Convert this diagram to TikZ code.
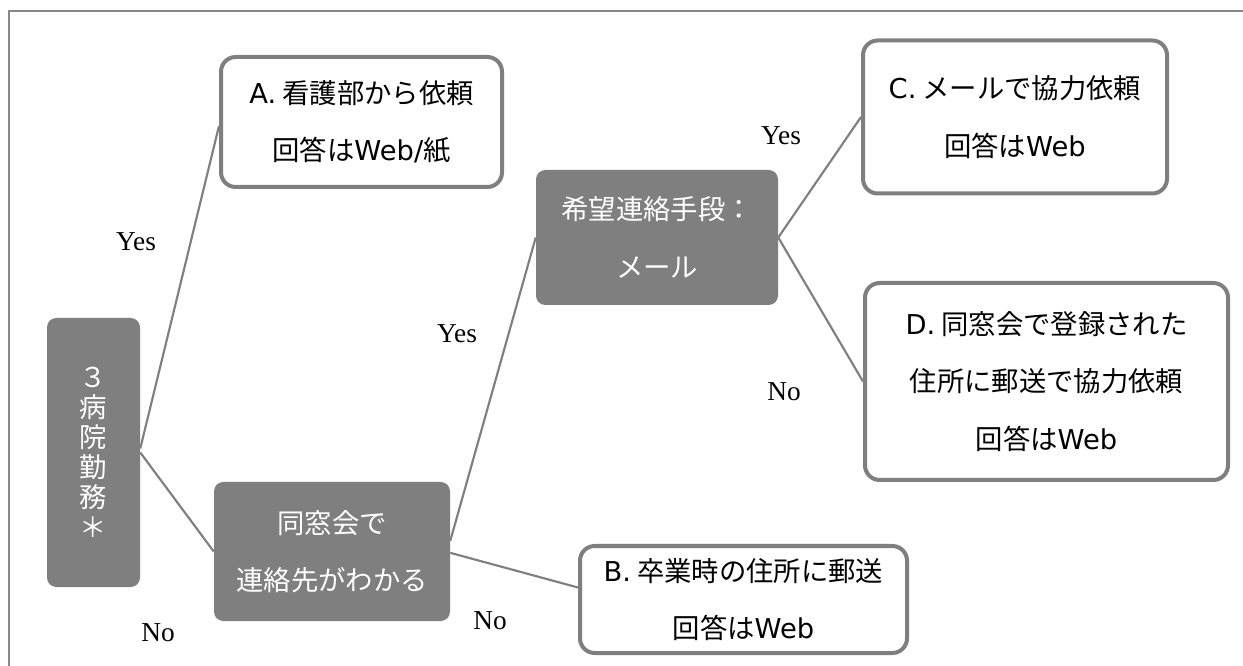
\documentclass[tikz,border=0pt]{standalone}
\usepackage{fontspec}
\setmainfont{Liberation Serif}
\newfontfamily\jp{Noto Sans CJK JP}
\newfontfamily\latn{DejaVu Sans}
\newcommand{\lt}[1]{{\latn #1}}
\definecolor{frameg}{HTML}{888888}
\definecolor{boxg}{HTML}{7F7F7F}
\begin{document}
\begin{tikzpicture}[x=0.75pt,y=-0.75pt,
  darkbox/.style={draw=none,fill=boxg,rounded corners=7pt,text=white,align=center,
    font=\jp\fontsize{20.5}{43}\selectfont,inner sep=0pt},
  whitebox/.style={draw=boxg,line width=3pt,fill=white,rounded corners=11pt,text=black,align=center,
    font=\jp\fontsize{20.5}{43}\selectfont,inner sep=0pt},
  conn/.style={draw=boxg,line width=1.6pt},
  lbl/.style={font=\fontsize{20.5}{24}\selectfont,inner sep=0pt}]
\useasboundingbox (0,0) rectangle (1243,666);
\fill[white] (0,0) rectangle (1243,666);
\draw[frameg,line width=1.6pt] (9,700) -- (9,11) -- (1260,11);

\node[darkbox,minimum width=93*0.75pt,minimum height=269*0.75pt,
  font=\jp\fontsize{20.5}{22.5}\selectfont] (b1) at (93.5,452.5) {３\\病\\院\\勤\\務\\＊};
\node[darkbox,minimum width=236*0.75pt,minimum height=139*0.75pt] (b2) at (332,551.5) {同窓会で\\連絡先がわかる};
\node[darkbox,minimum width=242*0.75pt,minimum height=135*0.75pt] (b3) at (657,237.5) {希望連絡手段：\\メール};

\node[whitebox,minimum width=281*0.75pt,minimum height=130*0.75pt] (ba) at (361.5,122) {\lt{A.} 看護部から依頼\\回答は\lt{Web/}紙};
\node[whitebox,minimum width=304*0.75pt,minimum height=153*0.75pt] (bc) at (1015,117) {\lt{C.} メールで協力依頼\\回答は\lt{Web}};
\node[whitebox,minimum width=363*0.75pt,minimum height=197*0.75pt] (bd) at (1046.5,381.5) {\lt{D.} 同窓会で登録された\\住所に郵送で協力依頼\\回答は\lt{Web}};
\node[whitebox,minimum width=327*0.75pt,minimum height=107*0.75pt] (bb) at (743.5,599.5) {\lt{B.} 卒業時の住所に郵送\\回答は\lt{Web}};

\draw[conn] ([yshift=3pt]b1.east) -- ([yshift=-3pt]ba.west);
\draw[conn] (b1.east) -- (b2.west);
\draw[conn] ([yshift=8pt]b2.east) -- (b3.west);
\draw[conn] ([yshift=-1pt]b2.east) -- ([yshift=9pt]bb.west);
\draw[conn] (b3.east) -- (bc.west);
\draw[conn] (b3.east) -- (bd.west);

\node[lbl] (l1) at (136,242) {Yes};
\node[lbl] (l2) at (158,633) {No};
\node[lbl] (l3) at (457,334) {Yes};
\node[lbl] (l4) at (490,621) {No};
\node[lbl] (l5) at (781,136) {Yes};
\node[lbl] (l6) at (784,392) {No};
\end{tikzpicture}
\end{document}
